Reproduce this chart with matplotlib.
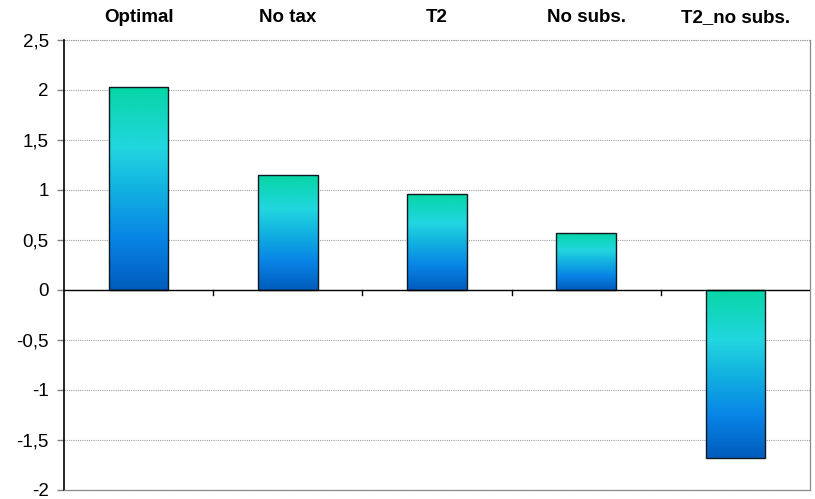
import numpy as np
import matplotlib.pyplot as plt
from matplotlib.colors import LinearSegmentedColormap
from matplotlib.patches import Rectangle

plt.rcParams['font.family'] = ['Liberation Sans', 'DejaVu Sans']

scenarios = ['Optimal', 'No tax', 'T2', 'No subs.', 'T2_no subs.']
values = [2.03, 1.15, 0.96, 0.57, -1.68]
yticks = [2.5, 2, 1.5, 1, 0.5, 0, -0.5, -1, -1.5, -2]
ytick_labels = ['2,5', '2', '1,5', '1', '0,5', '0', '-0,5', '-1', '-1,5', '-2']

# green on top, cyan upper middle, blue at the bottom
grad = LinearSegmentedColormap.from_list(
    'bar_grad', [(0.0, '#005cbc'), (0.25, '#0884e6'), (0.5, '#12b2e0'),
                 (0.7, '#22d6e0'), (1.0, '#06d6a6')])

fig = plt.figure(figsize=(8.15, 4.99), dpi=100)
ax = fig.add_axes([64 / 815, 9 / 499, 746 / 815, 450 / 499])

ax.set_xlim(0, len(scenarios))
ax.set_ylim(-2, 2.5)

for y in yticks:
    if y != 0:
        ax.axhline(y, color='#a0a0a0', lw=0.8, ls=(0, (1, 1)), zorder=0)

w = 0.4
g = np.linspace(0, 1, 256).reshape(-1, 1)
for i, v in enumerate(values):
    x0 = i + 0.5 - w / 2
    lo, hi = min(0, v), max(0, v)
    im = ax.imshow(g, cmap=grad, aspect='auto', origin='lower',
                   extent=[x0, x0 + w, lo, hi], zorder=2, interpolation='bilinear')
    r = Rectangle((x0, lo), w, hi - lo, fill=False, ec='#101820', lw=1.0, zorder=3)
    ax.add_patch(r)
    im.set_clip_path(r)
    ax.text(i + 0.5, 1.05, scenarios[i], transform=ax.get_xaxis_transform(),
            ha='center', va='center', fontsize=13.5, fontweight='bold')

ax.axhline(0, color='black', lw=1.0, zorder=4)
ax.set_aspect('auto')

ax.set_yticks(yticks)
ax.set_yticklabels(ytick_labels, fontsize=13.5)
ax.tick_params(axis='y', length=5, color='#808080', width=1, pad=6)
ax.set_xticks([])
# category separators as small ticks under the zero line
for k in range(1, len(scenarios)):
    ax.plot([k, k], [0, -0.05], color='black', lw=1, zorder=4, clip_on=False)

ax.spines['left'].set_color('black')
ax.spines['left'].set_linewidth(1.2)
for s in ['right', 'bottom', 'top']:
    ax.spines[s].set_color('#8a8a8a')
    ax.spines[s].set_linewidth(0.9)
ax.spines['top'].set_visible(False)
ax.axhline(2.5, color='#a0a0a0', lw=0.8, ls=(0, (1, 1)), zorder=0, clip_on=False)

fig.savefig('out.png', dpi=100)
